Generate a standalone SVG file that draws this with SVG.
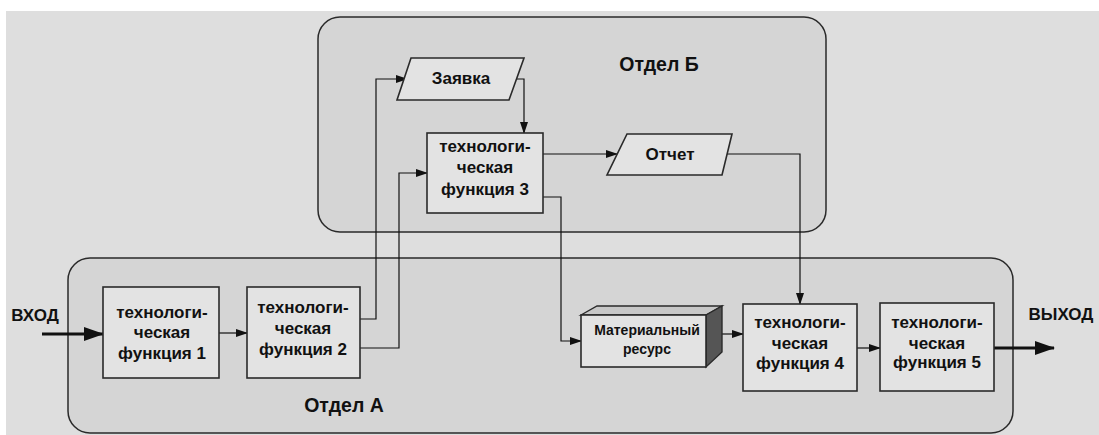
<svg xmlns="http://www.w3.org/2000/svg" width="1099" height="435" viewBox="0 0 1099 435">
<style>
.dept{fill:#d5d5d5;stroke:#2a2a2a;stroke-width:1.5}
.box{fill:#e3e3e3;stroke:#2a2a2a;stroke-width:1.6}
.t{font-family:"Liberation Sans",Arial,sans-serif;font-weight:bold;fill:#111;text-anchor:middle}
.f{font-size:17px}
.big{font-size:19.5px}
.c{fill:none;stroke:#111;stroke-width:1.2}
.thick{fill:none;stroke:#111;stroke-width:3}
</style>
<defs>
<marker id="ah" markerWidth="12" markerHeight="8" refX="11" refY="4" orient="auto" markerUnits="userSpaceOnUse">
<path d="M0,0 L12,4 L0,8 Z" fill="#111"/>
</marker>
<marker id="ahb" markerWidth="20" markerHeight="14" refX="19" refY="7" orient="auto" markerUnits="userSpaceOnUse">
<path d="M0,0 L20,7 L0,14 Z" fill="#111"/>
</marker>
</defs>
<rect x="0" y="0" width="1099" height="435" fill="#ffffff"/>
<rect x="6" y="11" width="1093" height="424" fill="#dedede"/>

<g id="deptB">
<rect class="dept" x="318" y="17" width="508" height="215" rx="22"/>
<text class="t big" x="659" y="71">Отдел Б</text>
</g>
<g id="deptA">
<rect class="dept" x="68" y="258" width="945" height="175" rx="22"/>
<text class="t big" x="344" y="412">Отдел А</text>
</g>

<g id="connectors">
<line class="thick" x1="42" y1="334" x2="103" y2="334" marker-end="url(#ahb)"/>
<line class="c" x1="219" y1="333" x2="247" y2="333" marker-end="url(#ah)"/>
<polyline class="c" points="359,319 376,319 376,79 407,79" marker-end="url(#ah)"/>
<polyline class="c" points="359,348 399,348 399,173 427,173" marker-end="url(#ah)"/>
<polyline class="c" points="513,79 524,79 524,133" marker-end="url(#ah)"/>
<line class="c" x1="543" y1="154" x2="617" y2="154" marker-end="url(#ah)"/>
<polyline class="c" points="723,154 800,154 800,304" marker-end="url(#ah)"/>
<polyline class="c" points="543,197 561,197 561,341 581,341" marker-end="url(#ah)"/>
<line class="c" x1="722" y1="334" x2="743" y2="334" marker-end="url(#ah)"/>
<line class="c" x1="857" y1="348" x2="880" y2="348" marker-end="url(#ah)"/>
<line class="thick" x1="994" y1="348" x2="1054" y2="348" marker-end="url(#ahb)"/>
</g>

<g id="in-label"><text class="t f" x="35" y="321">ВХОД</text></g>
<g id="out-label"><text class="t f" x="1061" y="320">ВЫХОД</text></g>

<g id="func1">
<rect class="box" x="103" y="287" width="116" height="91"/>
<text class="t f" x="162" y="318">технологи-</text>
<text class="t f" x="162" y="338">ческая</text>
<text class="t f" x="162" y="359">функция 1</text>
</g>
<g id="func2">
<rect class="box" x="247" y="287" width="113" height="91"/>
<text class="t f" x="303" y="313">технологи-</text>
<text class="t f" x="303" y="334">ческая</text>
<text class="t f" x="303" y="355">функция 2</text>
</g>
<g id="zayavka">
<polygon class="box" points="411,58 524,58 509,100 397,100"/>
<text class="t f" x="461" y="84">Заявка</text>
</g>
<g id="func3">
<rect class="box" x="427" y="133" width="116" height="80"/>
<text class="t f" x="485" y="152">технологи-</text>
<text class="t f" x="485" y="173">ческая</text>
<text class="t f" x="485" y="195">функция 3</text>
</g>
<g id="otchet">
<polygon class="box" points="627,134 732,134 722,175 607,175"/>
<text class="t f" x="670" y="160">Отчет</text>
</g>
<g id="resource">
<polygon points="581,315 597,306 722,306 706,315" fill="#c8c8c8" stroke="#2a2a2a" stroke-width="1.4"/>
<polygon points="706,315 722,306 722,352 706,367" fill="#555555" stroke="#2a2a2a" stroke-width="1.4"/>
<rect class="box" x="581" y="315" width="125" height="52"/>
<text class="t" style="font-size:14px" x="647" y="335">Материальный</text>
<text class="t" style="font-size:14px" x="647" y="354">ресурс</text>
</g>
<g id="func4">
<rect class="box" x="743" y="304" width="114" height="87"/>
<text class="t f" x="800" y="328">технологи-</text>
<text class="t f" x="800" y="349">ческая</text>
<text class="t f" x="800" y="369">функция 4</text>
</g>
<g id="func5">
<rect class="box" x="880" y="303" width="114" height="88"/>
<text class="t f" x="937" y="328">технологи-</text>
<text class="t f" x="937" y="349">ческая</text>
<text class="t f" x="937" y="368">функция 5</text>
</g>
</svg>
